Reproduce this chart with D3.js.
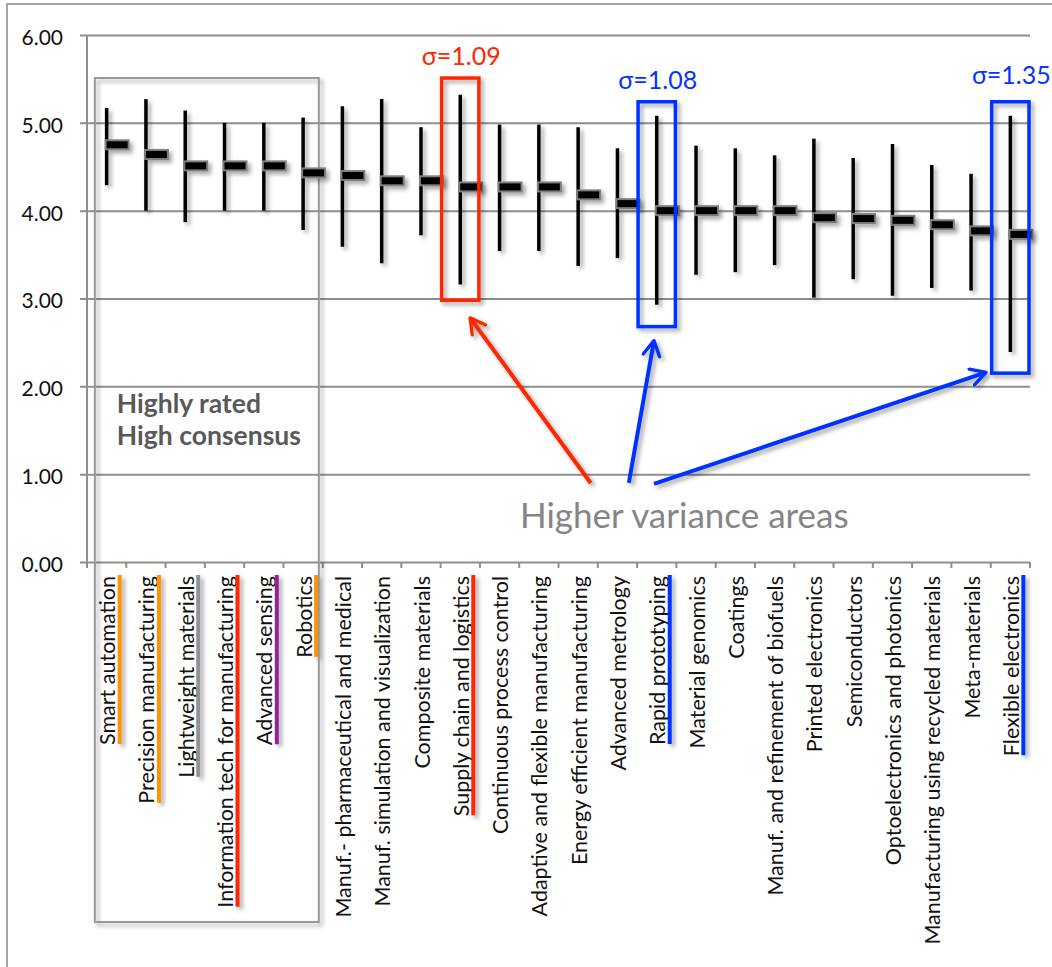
<!DOCTYPE html>
<html>
<head>
<meta charset="utf-8">
<script src="https://cdn.jsdelivr.net/npm/d3@7"></script>
<style>
  html, body { margin: 0; padding: 0; background: #fff; }
  svg { display: block; }
  text { font-family: Lato, "Open Sans", sans-serif; }
</style>
</head>
<body>
<svg id="chart" width="1052" height="967"></svg>
<script>
// ---------- data ----------
const categories = [
  "Smart automation", "Precision manufacturing", "Lightweight materials",
  "Information tech for manufacturing", "Advanced sensing", "Robotics",
  "Manuf.- pharmaceutical and medical", "Manuf. simulation and visualization",
  "Composite materials", "Supply chain and logistics", "Continuous process control",
  "Adaptive and flexible manufacturing", "Energy efficient manufacturing",
  "Advanced metrology", "Rapid prototyping", "Material genomics", "Coatings",
  "Manuf. and refinement of biofuels", "Printed electronics", "Semiconductors",
  "Optoelectronics and photonics", "Manufacturing using recycled materials",
  "Meta-materials", "Flexible electronics"
];
const highValues = [5.17, 5.27, 5.14, 5.00, 5.00, 5.06, 5.19, 5.27, 4.95, 5.32, 4.98, 4.98,
                    4.95, 4.71, 5.08, 4.74, 4.71, 4.63, 4.82, 4.60, 4.76, 4.52, 4.42, 5.08];
const lowValues  = [4.29, 4.00, 3.87, 4.00, 4.00, 3.78, 3.59, 3.40, 3.72, 3.16, 3.54, 3.54,
                    3.37, 3.46, 2.93, 3.27, 3.30, 3.38, 3.01, 3.22, 3.03, 3.12, 3.09, 2.39];
const meanValues = [4.75, 4.64, 4.51, 4.51, 4.51, 4.43, 4.40, 4.34, 4.34, 4.27, 4.27, 4.27,
                    4.18, 4.08, 4.00, 4.00, 4.00, 4.00, 3.92, 3.91, 3.89, 3.84, 3.77, 3.73];
const yTickValues = [0, 1, 2, 3, 4, 5, 6];
const labelMarkColors = ["#ff9300", "#ff9300", "#929292", "#ff2600", "#942192", "#ff9300",
                         null, null, null, "#ff2600", null, null, null, null, "#0433ff",
                         null, null, null, null, null, null, null, null, "#0433ff"];

// highlighted (high variance) categories
const sigmaLabels = ["σ=1.09", "σ=1.08", "σ=1.35"];
const sigmaIndex = [9, 14, 23];
const sigmaColors = ["#ff2600", "#0433ff", "#0433ff"];
const sigmaBoxTop = [5.51, 5.24, 5.24];
const sigmaBoxBottom = [2.98, 2.68, 2.15];
const sigmaLabelY = [5.66, 5.38, 5.44];
// arrows: [x index, value] from -> to
const arrowFrom = [[12.82, 0.90], [13.79, 0.90], [14.43, 0.89]];
const arrowTo   = [[9.75, 2.78], [14.43, 2.52], [22.88, 2.16]];
const consensusText = ["Highly rated", "High consensus"];
const varianceText = "Higher variance areas";

(function () {
// ---------- layout ----------
const svg = d3.select("#chart");
const pLeft = 87, pRight = 1030, pTop = 35, pBottom = 562;

const x = d3.scaleBand().domain(categories).range([pLeft, pRight]).paddingInner(0).paddingOuter(0);
const xi = d3.scaleLinear().domain([0, categories.length]).range([pLeft, pRight]);
const y = d3.scaleLinear().domain([0, 6]).range([pBottom, pTop]);
const cx = d => x(d) + x.bandwidth() / 2;

const defs = svg.append("defs");
const shadow = defs.append("filter").attr("id", "shadow")
  .attr("filterUnits", "userSpaceOnUse")
  .attr("x", 0).attr("y", 0).attr("width", 1052).attr("height", 967);
shadow.append("feDropShadow").attr("dx", 3).attr("dy", 3).attr("stdDeviation", 2)
  .attr("flood-color", "#000").attr("flood-opacity", 0.35);

function arrowMarker(id, color) {
  defs.append("marker").attr("id", id)
    .attr("viewBox", "0 0 12 12").attr("refX", 10).attr("refY", 6)
    .attr("markerWidth", 5).attr("markerHeight", 5)
    .attr("markerUnits", "strokeWidth")
    .attr("orient", "auto")
    .append("path").attr("d", "M1,1 L10,6 L1,11")
    .attr("fill", "none").attr("stroke", color).attr("stroke-width", 2)
    .attr("stroke-linecap", "round").attr("stroke-linejoin", "round");
}
arrowMarker("arrow-red", "#ff2600");
arrowMarker("arrow-blue", "#0433ff");

// outer frame
svg.append("rect").attr("x", 7).attr("y", 4).attr("width", 1100).attr("height", 1100)
  .attr("fill", "none").attr("stroke", "#a6a6a6").attr("stroke-width", 2);

// gridlines + y axis
const yAxis = d3.axisLeft(y).tickValues(yTickValues).tickFormat(d3.format(".2f"))
  .tickSize(-(pRight - pLeft)).tickSizeOuter(0).tickPadding(24);
const gy = svg.append("g").attr("transform", `translate(${pLeft},0)`).call(yAxis);
gy.select(".domain").remove();
gy.selectAll(".tick line").attr("stroke", "#8e8e8e").attr("stroke-width", 2).attr("x1", -7);
gy.selectAll(".tick text").attr("font-size", 21).attr("fill", "#111").attr("dy", "0.45em");
svg.append("line").attr("x1", pLeft).attr("x2", pLeft).attr("y1", pTop).attr("y2", pBottom + 6)
  .attr("stroke", "#8e8e8e").attr("stroke-width", 2);

// x axis ticks at band boundaries
const gx = svg.append("g");
gx.selectAll("line.bt").data(d3.range(categories.length + 1)).join("line")
  .attr("x1", i => xi(i)).attr("x2", i => xi(i))
  .attr("y1", pBottom).attr("y2", pBottom + 6)
  .attr("stroke", "#8e8e8e").attr("stroke-width", 2);

// x labels
const labels = gx.selectAll("text.xl").data(categories).join("text")
  .attr("class", "xl")
  .attr("transform", d => `translate(${cx(d) + 1},${pBottom + 14}) rotate(-90)`)
  .attr("text-anchor", "end").attr("dy", "0.35em")
  .attr("font-size", 21.5).attr("fill", "#111")
  .text(d => d);

// coloured marks next to labels
const marks = svg.append("g").attr("filter", "url(#shadow)");
labels.each(function (d, i) {
  const c = labelMarkColors[i];
  if (!c) return;
  const len = this.getComputedTextLength();
  marks.append("line")
    .attr("x1", cx(d) + 13).attr("x2", cx(d) + 13)
    .attr("y1", pBottom + 13).attr("y2", pBottom + 13 + len)
    .attr("stroke", c).attr("stroke-width", 4);
});

// high consensus box
svg.append("rect")
  .attr("x", xi(0.2)).attr("y", y(5.51))
  .attr("width", xi(5.9) - xi(0.2)).attr("height", (pBottom + 360) - y(5.51))
  .attr("fill", "none").attr("stroke", "#999").attr("stroke-width", 2)
  .attr("filter", "url(#shadow)");
svg.append("g").selectAll("text").data(consensusText).join("text")
  .attr("x", xi(0.76)).attr("y", (d, i) => y(1.70) + i * 32.5)
  .attr("font-size", 26.5).attr("font-weight", "bold").attr("fill", "#595959")
  .text(d => d);

// candles
const candles = svg.append("g").attr("filter", "url(#shadow)");
candles.selectAll("line.hl").data(categories).join("line")
  .attr("x1", cx).attr("x2", cx)
  .attr("y1", (d, i) => y(highValues[i])).attr("y2", (d, i) => y(lowValues[i]))
  .attr("stroke", "#000").attr("stroke-width", 3.5);
candles.selectAll("rect.mean").data(categories).join("rect")
  .attr("x", d => cx(d) - 1).attr("width", 23)
  .attr("y", (d, i) => y(meanValues[i]) - 4.5).attr("height", 9)
  .attr("fill", "#000").attr("stroke", "#7f7f7f").attr("stroke-width", 2);

// sigma boxes
const sg = svg.append("g");
sigmaIndex.forEach((ci, k) => {
  const c = categories[ci];
  sg.append("rect")
    .attr("x", x(c) + 1).attr("width", x.bandwidth() - 2)
    .attr("y", y(sigmaBoxTop[k])).attr("height", y(sigmaBoxBottom[k]) - y(sigmaBoxTop[k]))
    .attr("fill", "none").attr("stroke", sigmaColors[k]).attr("stroke-width", 3.5)
    .attr("filter", "url(#shadow)");
  sg.append("text")
    .attr("x", cx(c) + 1).attr("y", y(sigmaLabelY[k]))
    .attr("text-anchor", "middle").attr("font-size", 25)
    .attr("fill", sigmaColors[k]).text(sigmaLabels[k]);
});

// arrows
arrowFrom.forEach((f, k) => {
  const t = arrowTo[k];
  sg.append("line")
    .attr("x1", xi(f[0])).attr("y1", y(f[1]))
    .attr("x2", xi(t[0])).attr("y2", y(t[1]))
    .attr("stroke", sigmaColors[k]).attr("stroke-width", 4)
    .attr("marker-end", `url(#arrow-${k === 0 ? "red" : "blue"})`)
    .attr("filter", "url(#shadow)");
});

svg.append("text").attr("x", xi(11.02)).attr("y", y(0.39))
  .attr("font-size", 35).attr("fill", "#858585").text(varianceText);
})();
</script>
</body>
</html>
